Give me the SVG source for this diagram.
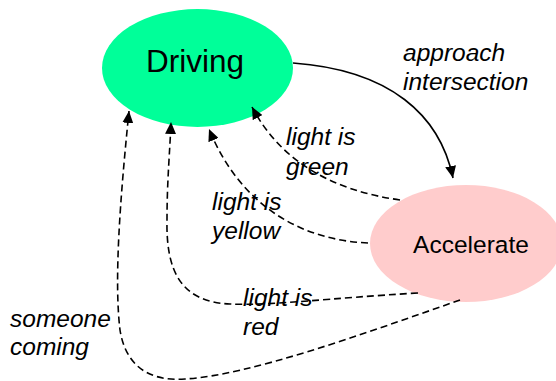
<svg xmlns="http://www.w3.org/2000/svg" width="556" height="381" viewBox="0 0 556 381">
  <style>
    .node-label { font-family: "Liberation Sans", Arial, sans-serif; fill: #000; text-anchor: middle; }
    .edge-label { font-family: "Liberation Sans", Arial, sans-serif; font-style: italic; font-size: 24.5px; fill: #000; }
    .edge { fill: none; stroke: #000; stroke-width: 1.6; }
    .dashed { stroke-dasharray: 7 4; }
  </style>
  <defs>
    <marker id="arrow" markerUnits="userSpaceOnUse" markerWidth="13" markerHeight="11" refX="12" refY="5.5" orient="auto">
      <path d="M0,0 L12,5.5 L0,11 z" fill="#000" stroke="none"/>
    </marker>
  </defs>
  <rect width="556" height="381" fill="#fff"/>

  <g id="node-driving">
    <ellipse cx="197.5" cy="68" rx="95.5" ry="59" fill="#00FF99"/>
    <text class="node-label" x="195" y="72" font-size="31.5">Driving</text>
  </g>

  <g id="node-accelerate">
    <ellipse cx="466" cy="243.5" rx="96" ry="58.5" fill="#FFCCCC"/>
    <text class="node-label" x="471" y="253" font-size="24.5">Accelerate</text>
  </g>

  <g id="connectors">
    <path class="edge" d="M293,63 C390,70 440,115 453,178" marker-end="url(#arrow)"/>
    <path class="edge dashed" d="M400,200 C330,190 280,160 252,107" marker-end="url(#arrow)"/>
    <path class="edge dashed" d="M368,243 C300,240 240,205 209,129" marker-end="url(#arrow)"/>
    <path class="edge dashed" d="M418,293 C330,298 270,306 230,304 C180,302 166,270 167,220 C167,180 170,150 171,122" marker-end="url(#arrow)"/>
    <path class="edge dashed" d="M460,300 C360,335 250,375 185,379 C145,382 125,362 120,330 C114,280 120,200 129,111" marker-end="url(#arrow)"/>
  </g>

  <g id="labels">
    <text class="edge-label" x="403" y="61">approach</text>
    <text class="edge-label" x="403" y="90">intersection</text>
    <text class="edge-label" x="286" y="145">light is</text>
    <text class="edge-label" x="286" y="175">green</text>
    <text class="edge-label" x="212" y="210">light is</text>
    <text class="edge-label" x="212" y="239">yellow</text>
    <text class="edge-label" x="243" y="306">light is</text>
    <text class="edge-label" x="243" y="335">red</text>
    <text class="edge-label" x="10" y="327">someone</text>
    <text class="edge-label" x="10" y="355">coming</text>
  </g>
</svg>
